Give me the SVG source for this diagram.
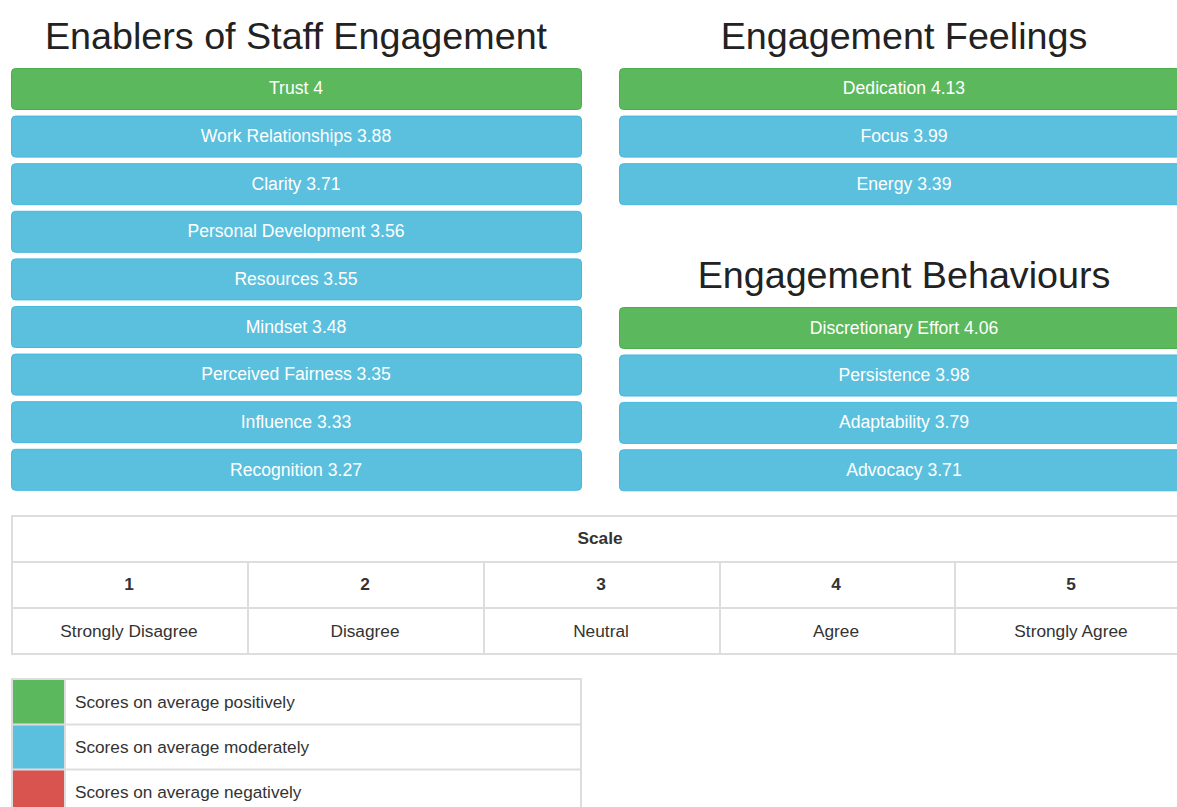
<svg xmlns="http://www.w3.org/2000/svg" width="1177" height="807" viewBox="0 0 1177 807">
  <style>
    text { font-family: "Liberation Sans", Arial, sans-serif; }
    .title { font-size: 37.7px; fill: #222; text-anchor: middle; }
    .btn-s { fill: #5cb85c; stroke: #4cae4c; stroke-width: 1; }
    .btn-i { fill: #5bc0de; stroke: #46b8da; stroke-width: 1; }
    .lbl { font-size: 17.6px; fill: #fff; text-anchor: middle; }
    .grid { fill: none; stroke: #dddddd; stroke-width: 2; }
    .cell { font-size: 17.3px; fill: #333; text-anchor: middle; }
    .bold { font-weight: bold; }
    .leg { font-size: 17.2px; fill: #333; }
  </style>
  <rect width="1177" height="807" fill="#fff"/>

  <!-- Section headings -->
  <text class="title" x="296" y="49">Enablers of Staff Engagement</text>
  <text class="title" x="904" y="49">Engagement Feelings</text>
  <text class="title" x="904" y="288">Engagement Behaviours</text>

  <!-- Enablers column -->
  <g id="enablers">
    <g id="trust"><rect class="btn-s" x="11.5" y="68.5" width="570" height="41" rx="4"/><text class="lbl" x="296" y="94">Trust 4</text></g>
    <g id="work-relationships"><rect class="btn-i" x="11.5" y="116.1" width="570" height="41" rx="4"/><text class="lbl" x="296" y="142">Work Relationships 3.88</text></g>
    <g id="clarity"><rect class="btn-i" x="11.5" y="163.7" width="570" height="41" rx="4"/><text class="lbl" x="296" y="190">Clarity 3.71</text></g>
    <g id="personal-development"><rect class="btn-i" x="11.5" y="211.3" width="570" height="41" rx="4"/><text class="lbl" x="296" y="237">Personal Development 3.56</text></g>
    <g id="resources"><rect class="btn-i" x="11.5" y="258.9" width="570" height="41" rx="4"/><text class="lbl" x="296" y="285">Resources 3.55</text></g>
    <g id="mindset"><rect class="btn-i" x="11.5" y="306.5" width="570" height="41" rx="4"/><text class="lbl" x="296" y="333">Mindset 3.48</text></g>
    <g id="perceived-fairness"><rect class="btn-i" x="11.5" y="354.1" width="570" height="41" rx="4"/><text class="lbl" x="296" y="380">Perceived Fairness 3.35</text></g>
    <g id="influence"><rect class="btn-i" x="11.5" y="401.7" width="570" height="41" rx="4"/><text class="lbl" x="296" y="428">Influence 3.33</text></g>
    <g id="recognition"><rect class="btn-i" x="11.5" y="449.3" width="570" height="41" rx="4"/><text class="lbl" x="296" y="476">Recognition 3.27</text></g>
  </g>

  <!-- Feelings column -->
  <g id="feelings">
    <g id="dedication"><rect class="btn-s" x="619.5" y="68.5" width="570" height="41" rx="4"/><text class="lbl" x="904" y="94">Dedication 4.13</text></g>
    <g id="focus"><rect class="btn-i" x="619.5" y="116.1" width="570" height="41" rx="4"/><text class="lbl" x="904" y="142">Focus 3.99</text></g>
    <g id="energy"><rect class="btn-i" x="619.5" y="163.7" width="570" height="41" rx="4"/><text class="lbl" x="904" y="190">Energy 3.39</text></g>
  </g>

  <!-- Behaviours column -->
  <g id="behaviours">
    <g id="discretionary-effort"><rect class="btn-s" x="619.5" y="307.5" width="570" height="41" rx="4"/><text class="lbl" x="904" y="334">Discretionary Effort 4.06</text></g>
    <g id="persistence"><rect class="btn-i" x="619.5" y="355" width="570" height="41" rx="4"/><text class="lbl" x="904" y="381">Persistence 3.98</text></g>
    <g id="adaptability"><rect class="btn-i" x="619.5" y="402.4" width="570" height="41" rx="4"/><text class="lbl" x="904" y="428">Adaptability 3.79</text></g>
    <g id="advocacy"><rect class="btn-i" x="619.5" y="449.8" width="570" height="41" rx="4"/><text class="lbl" x="904" y="476">Advocacy 3.71</text></g>
  </g>

  <!-- Scale table -->
  <g id="scale">
    <rect class="grid" x="12" y="516" width="1180" height="138"/>
    <line class="grid" x1="12" y1="562" x2="1192" y2="562"/>
    <line class="grid" x1="12" y1="608" x2="1192" y2="608"/>
    <line class="grid" x1="248" y1="562" x2="248" y2="654"/>
    <line class="grid" x1="484" y1="562" x2="484" y2="654"/>
    <line class="grid" x1="720" y1="562" x2="720" y2="654"/>
    <line class="grid" x1="955" y1="562" x2="955" y2="654"/>
    <text class="cell bold" x="600" y="544">Scale</text>
    <text class="cell bold" x="129" y="590">1</text>
    <text class="cell bold" x="365" y="590">2</text>
    <text class="cell bold" x="601" y="590">3</text>
    <text class="cell bold" x="836" y="590">4</text>
    <text class="cell bold" x="1071" y="590">5</text>
    <text class="cell" x="129" y="637">Strongly Disagree</text>
    <text class="cell" x="365" y="637">Disagree</text>
    <text class="cell" x="601" y="637">Neutral</text>
    <text class="cell" x="836" y="637">Agree</text>
    <text class="cell" x="1071" y="637">Strongly Agree</text>
  </g>

  <!-- Colour legend -->
  <g id="legend">
    <rect x="13" y="680" width="51" height="44" fill="#5cb85c"/>
    <rect x="13" y="725" width="51" height="44" fill="#5bc0de"/>
    <rect x="13" y="770" width="51" height="40" fill="#d9534f"/>
    <rect class="grid" x="12" y="679" width="569" height="140"/>
    <line class="grid" x1="12" y1="724.5" x2="581" y2="724.5"/>
    <line class="grid" x1="12" y1="769.5" x2="581" y2="769.5"/>
    <line class="grid" x1="65" y1="679" x2="65" y2="819"/>
    <text class="leg" x="75" y="708">Scores on average positively</text>
    <text class="leg" x="75" y="753">Scores on average moderately</text>
    <text class="leg" x="75" y="798">Scores on average negatively</text>
  </g>
</svg>
